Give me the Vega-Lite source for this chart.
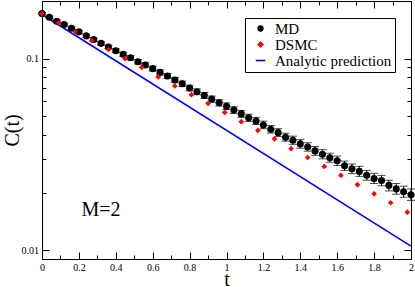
{
  "$schema": "https://vega.github.io/schema/vega-lite/v6.json",
  "width": 369,
  "height": 258,
  "autosize": {"type": "none"},
  "padding": {"left": 42, "top": 1, "right": 4, "bottom": 28},
  "background": "white",
  "config": {
    "view": {"stroke": null},
    "axis": {
      "grid": false,
      "domainColor": "black",
      "domainWidth": 1,
      "tickColor": "black",
      "tickWidth": 1,
      "labelFont": "Liberation Serif",
      "titleFont": "Liberation Serif",
      "labelColor": "black",
      "titleColor": "black",
      "labelFontSize": 10,
      "titleFontSize": 20,
      "titleFontWeight": "normal",
      "labelOverlap": false,
      "labelFlush": false,
      "labelBound": false
    }
  },
  "datasets": {
    "analytic": [
      {"t": 0, "C": 0.170, "series": "Analytic prediction"},
      {"t": 2, "C": 0.0105, "series": "Analytic prediction"}
    ],
    "md": [
      {"t": 0.00, "C": 0.172, "lo": 0.1699, "hi": 0.1741, "series": "MD"},
      {"t": 0.04, "C": 0.1645, "lo": 0.1624, "hi": 0.1667, "series": "MD"},
      {"t": 0.08, "C": 0.1568, "lo": 0.1546, "hi": 0.1590, "series": "MD"},
      {"t": 0.12, "C": 0.1507, "lo": 0.1484, "hi": 0.1530, "series": "MD"},
      {"t": 0.16, "C": 0.1441, "lo": 0.1417, "hi": 0.1465, "series": "MD"},
      {"t": 0.20, "C": 0.1380, "lo": 0.1356, "hi": 0.1404, "series": "MD"},
      {"t": 0.24, "C": 0.1315, "lo": 0.1291, "hi": 0.1340, "series": "MD"},
      {"t": 0.28, "C": 0.1258, "lo": 0.1233, "hi": 0.1283, "series": "MD"},
      {"t": 0.32, "C": 0.1202, "lo": 0.1177, "hi": 0.1227, "series": "MD"},
      {"t": 0.36, "C": 0.1151, "lo": 0.1126, "hi": 0.1177, "series": "MD"},
      {"t": 0.40, "C": 0.1101, "lo": 0.1076, "hi": 0.1127, "series": "MD"},
      {"t": 0.44, "C": 0.1053, "lo": 0.1028, "hi": 0.1079, "series": "MD"},
      {"t": 0.48, "C": 0.1012, "lo": 0.0987, "hi": 0.1038, "series": "MD"},
      {"t": 0.52, "C": 0.0964, "lo": 0.0939, "hi": 0.0990, "series": "MD"},
      {"t": 0.56, "C": 0.0927, "lo": 0.0902, "hi": 0.0953, "series": "MD"},
      {"t": 0.60, "C": 0.0887, "lo": 0.0862, "hi": 0.0913, "series": "MD"},
      {"t": 0.64, "C": 0.0848, "lo": 0.0823, "hi": 0.0874, "series": "MD"},
      {"t": 0.68, "C": 0.0812, "lo": 0.0787, "hi": 0.0837, "series": "MD"},
      {"t": 0.72, "C": 0.0773, "lo": 0.0749, "hi": 0.0798, "series": "MD"},
      {"t": 0.76, "C": 0.0739, "lo": 0.0715, "hi": 0.0764, "series": "MD"},
      {"t": 0.80, "C": 0.0703, "lo": 0.0679, "hi": 0.0727, "series": "MD"},
      {"t": 0.84, "C": 0.0672, "lo": 0.0649, "hi": 0.0696, "series": "MD"},
      {"t": 0.88, "C": 0.0642, "lo": 0.0619, "hi": 0.0666, "series": "MD"},
      {"t": 0.92, "C": 0.0615, "lo": 0.0592, "hi": 0.0638, "series": "MD"},
      {"t": 0.96, "C": 0.0588, "lo": 0.0566, "hi": 0.0611, "series": "MD"},
      {"t": 1.00, "C": 0.0565, "lo": 0.0543, "hi": 0.0588, "series": "MD"},
      {"t": 1.04, "C": 0.0539, "lo": 0.0517, "hi": 0.0561, "series": "MD"},
      {"t": 1.08, "C": 0.0515, "lo": 0.0494, "hi": 0.0537, "series": "MD"},
      {"t": 1.12, "C": 0.0491, "lo": 0.0470, "hi": 0.0513, "series": "MD"},
      {"t": 1.16, "C": 0.0473, "lo": 0.0453, "hi": 0.0494, "series": "MD"},
      {"t": 1.20, "C": 0.0451, "lo": 0.0431, "hi": 0.0472, "series": "MD"},
      {"t": 1.24, "C": 0.0428, "lo": 0.0409, "hi": 0.0448, "series": "MD"},
      {"t": 1.28, "C": 0.0411, "lo": 0.0392, "hi": 0.0431, "series": "MD"},
      {"t": 1.32, "C": 0.0389, "lo": 0.0371, "hi": 0.0408, "series": "MD"},
      {"t": 1.36, "C": 0.0375, "lo": 0.0357, "hi": 0.0394, "series": "MD"},
      {"t": 1.40, "C": 0.0359, "lo": 0.0341, "hi": 0.0378, "series": "MD"},
      {"t": 1.44, "C": 0.0346, "lo": 0.0329, "hi": 0.0364, "series": "MD"},
      {"t": 1.48, "C": 0.0330, "lo": 0.0313, "hi": 0.0348, "series": "MD"},
      {"t": 1.52, "C": 0.0317, "lo": 0.0300, "hi": 0.0335, "series": "MD"},
      {"t": 1.56, "C": 0.0304, "lo": 0.0288, "hi": 0.0321, "series": "MD"},
      {"t": 1.60, "C": 0.0293, "lo": 0.0277, "hi": 0.0310, "series": "MD"},
      {"t": 1.64, "C": 0.0276, "lo": 0.0261, "hi": 0.0292, "series": "MD"},
      {"t": 1.68, "C": 0.0266, "lo": 0.0251, "hi": 0.0282, "series": "MD"},
      {"t": 1.72, "C": 0.0258, "lo": 0.0243, "hi": 0.0274, "series": "MD"},
      {"t": 1.76, "C": 0.0246, "lo": 0.0232, "hi": 0.0261, "series": "MD"},
      {"t": 1.80, "C": 0.0237, "lo": 0.0223, "hi": 0.0252, "series": "MD"},
      {"t": 1.84, "C": 0.0231, "lo": 0.0217, "hi": 0.0246, "series": "MD"},
      {"t": 1.88, "C": 0.0218, "lo": 0.0204, "hi": 0.0232, "series": "MD"},
      {"t": 1.92, "C": 0.0209, "lo": 0.0196, "hi": 0.0223, "series": "MD"},
      {"t": 1.96, "C": 0.0202, "lo": 0.0189, "hi": 0.0216, "series": "MD"},
      {"t": 2.00, "C": 0.0195, "lo": 0.0182, "hi": 0.0209, "series": "MD"}
    ],
    "dsmc": [
      {"t": 0.00, "C": 0.172, "series": "DSMC"},
      {"t": 0.09, "C": 0.1542, "series": "DSMC"},
      {"t": 0.18, "C": 0.1384, "series": "DSMC"},
      {"t": 0.27, "C": 0.1242, "series": "DSMC"},
      {"t": 0.36, "C": 0.1118, "series": "DSMC"},
      {"t": 0.45, "C": 0.1000, "series": "DSMC"},
      {"t": 0.54, "C": 0.0901, "series": "DSMC"},
      {"t": 0.63, "C": 0.0803, "series": "DSMC"},
      {"t": 0.72, "C": 0.0720, "series": "DSMC"},
      {"t": 0.81, "C": 0.0649, "series": "DSMC"},
      {"t": 0.90, "C": 0.0584, "series": "DSMC"},
      {"t": 0.99, "C": 0.0524, "series": "DSMC"},
      {"t": 1.08, "C": 0.0469, "series": "DSMC"},
      {"t": 1.17, "C": 0.0422, "series": "DSMC"},
      {"t": 1.26, "C": 0.0381, "series": "DSMC"},
      {"t": 1.35, "C": 0.0339, "series": "DSMC"},
      {"t": 1.44, "C": 0.0305, "series": "DSMC"},
      {"t": 1.53, "C": 0.0274, "series": "DSMC"},
      {"t": 1.62, "C": 0.0246, "series": "DSMC"},
      {"t": 1.71, "C": 0.0220, "series": "DSMC"},
      {"t": 1.80, "C": 0.0197, "series": "DSMC"},
      {"t": 1.89, "C": 0.0177, "series": "DSMC"},
      {"t": 1.98, "C": 0.0158, "series": "DSMC"}
    ],
    "note": [
      {"t": 0.32, "C": 0.0163, "label": "M=2"}
    ]
  },
  "layer": [
    {
      "data": {"name": "analytic"},
      "mark": {"type": "line", "strokeWidth": 1.6},
      "encoding": {
        "x": {
          "field": "t", "type": "quantitative",
          "scale": {"domain": [0, 2], "nice": false, "zero": false},
          "axis": {
            "orient": "bottom",
            "values": [0, 0.1, 0.2, 0.3, 0.4, 0.5, 0.6, 0.7, 0.8, 0.9, 1, 1.1, 1.2, 1.3, 1.4, 1.5, 1.6, 1.7, 1.8, 1.9, 2],
            "format": "~g",
            "labelExpr": "round(datum.value*10) % 2 == 0 ? datum.label : ''",
            "tickSize": {"condition": {"test": "round(datum.value*10) % 2 == 0", "value": -7}, "value": -4},
            "labelPadding": 10.5,
            "title": "t",
            "titleY": 26,
            "titleBaseline": "alphabetic"
          }
        },
        "y": {
          "field": "C", "type": "quantitative",
          "scale": {"type": "log", "domain": [0.009, 0.2], "nice": false},
          "axis": {
            "orient": "left",
            "values": [0.01, 0.02, 0.03, 0.04, 0.05, 0.06, 0.07, 0.08, 0.09, 0.1],
            "format": "~g",
            "labelExpr": "datum.value == 0.1 || datum.value == 0.01 ? datum.label : ''",
            "tickSize": {"condition": {"test": "datum.value == 0.1 || datum.value == 0.01", "value": -7}, "value": -4},
            "labelPadding": 10.5,
            "title": "C(t)",
            "titleX": -30,
            "titleY": 129,
            "titleAngle": -90,
            "titleAlign": "center",
            "titleBaseline": "middle"
          }
        },
        "color": {
          "field": "series", "type": "nominal",
          "scale": {"domain": ["MD", "DSMC", "Analytic prediction"], "range": ["black", "#ff0000", "#0000ff"]},
          "legend": {
            "title": null,
            "orient": "none",
            "legendX": 203,
            "legendY": 17,
            "strokeColor": "black",
            "fillColor": "white",
            "padding": 3,
            "symbolOffset": 5,
            "symbolSize": 100,
            "labelOffset": 7,
            "rowPadding": -2,
            "labelFont": "Liberation Serif",
            "labelFontSize": 15,
            "labelColor": "black",
            "encode": {
              "symbols": {
                "update": {
                  "fill": {"signal": "datum.value === 'Analytic prediction' ? 'transparent' : (datum.value === 'MD' ? 'black' : '#ff0000')"},
                  "stroke": {"signal": "datum.value === 'Analytic prediction' ? '#0000ff' : 'transparent'"},
                  "strokeWidth": {"value": 1.6},
                  "size": {"signal": "datum.value === 'Analytic prediction' ? 90 : 22"},
                  "opacity": {"value": 1}
                }
              }
            }
          }
        }
      }
    },
    {
      "data": {"name": "md"},
      "mark": {"type": "rule", "color": "black", "strokeWidth": 1},
      "encoding": {
        "x": {
          "field": "t", "type": "quantitative",
          "scale": {"domain": [0, 2], "nice": false, "zero": false},
          "axis": {
            "orient": "top",
            "values": [0, 0.1, 0.2, 0.3, 0.4, 0.5, 0.6, 0.7, 0.8, 0.9, 1, 1.1, 1.2, 1.3, 1.4, 1.5, 1.6, 1.7, 1.8, 1.9, 2],
            "labels": false,
            "title": null,
            "tickSize": {"condition": {"test": "round(datum.value*10) % 2 == 0", "value": -7}, "value": -4}
          }
        },
        "y": {
          "field": "lo", "type": "quantitative",
          "scale": {"type": "log", "domain": [0.009, 0.2], "nice": false},
          "axis": {
            "orient": "right",
            "values": [0.01, 0.02, 0.03, 0.04, 0.05, 0.06, 0.07, 0.08, 0.09, 0.1],
            "labels": false,
            "title": null,
            "tickSize": {"condition": {"test": "datum.value == 0.1 || datum.value == 0.01", "value": -7}, "value": -4}
          }
        },
        "y2": {"field": "hi"}
      }
    },
    {
      "data": {"name": "md"},
      "mark": {"type": "tick", "orient": "horizontal", "size": 8, "thickness": 1, "color": "black"},
      "encoding": {
        "x": {"field": "t", "type": "quantitative", "axis": null},
        "y": {"field": "lo", "type": "quantitative", "axis": null}
      }
    },
    {
      "data": {"name": "md"},
      "mark": {"type": "tick", "orient": "horizontal", "size": 8, "thickness": 1, "color": "black"},
      "encoding": {
        "x": {"field": "t", "type": "quantitative", "axis": null},
        "y": {"field": "hi", "type": "quantitative", "axis": null}
      }
    },
    {
      "data": {"name": "md"},
      "mark": {"type": "point", "filled": true, "opacity": 1, "size": 50},
      "encoding": {
        "x": {"field": "t", "type": "quantitative", "axis": null},
        "y": {"field": "C", "type": "quantitative", "axis": null},
        "color": {"field": "series", "type": "nominal"},
        "shape": {
          "field": "series", "type": "nominal",
          "scale": {"domain": ["MD", "DSMC", "Analytic prediction"], "range": ["circle", "diamond", "stroke"]}
        }
      }
    },
    {
      "data": {"name": "dsmc"},
      "mark": {"type": "point", "filled": true, "opacity": 1, "size": 32},
      "encoding": {
        "x": {"field": "t", "type": "quantitative", "axis": null},
        "y": {"field": "C", "type": "quantitative", "axis": null},
        "color": {"field": "series", "type": "nominal"},
        "shape": {"field": "series", "type": "nominal"}
      }
    },
    {
      "data": {"name": "note"},
      "mark": {"type": "text", "font": "Liberation Serif", "fontSize": 20, "align": "center", "baseline": "middle", "color": "black"},
      "encoding": {
        "x": {"field": "t", "type": "quantitative", "axis": null},
        "y": {"field": "C", "type": "quantitative", "axis": null},
        "text": {"field": "label"}
      }
    }
  ],
  "resolve": {"axis": {"x": "independent", "y": "independent"}}
}
